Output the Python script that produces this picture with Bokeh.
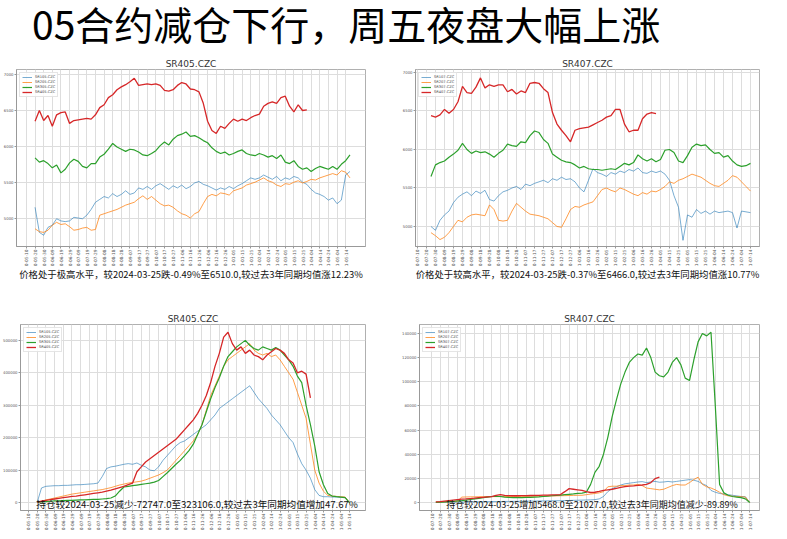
import math
from bokeh.plotting import figure
from bokeh.models import Div, Label, FixedTicker, Range1d, Legend, LegendItem
from bokeh.layouts import column, row
from bokeh.embed import file_html
from bokeh.resources import INLINE

# ---------------- data ----------------
page_title = "05合约减仓下行，周五夜盘大幅上涨"

left_dates = ["0-05-10", "0-05-20", "0-05-30", "0-06-09", "0-06-19", "0-06-29", "0-07-09", "0-07-19",
              "0-07-29", "0-08-08", "0-08-18", "0-08-28", "0-09-07", "0-09-17", "0-09-27", "0-10-07",
              "0-10-17", "0-10-27", "0-11-06", "0-11-16", "0-11-26", "0-12-06", "0-12-16", "0-12-26",
              "1-01-05", "1-01-15", "1-01-25", "1-02-04", "1-02-14", "1-02-24", "1-03-05", "1-03-15",
              "1-03-25", "1-04-04", "1-04-14", "1-04-24", "1-05-04", "1-05-14"]
right_dates = ["0-07-10", "0-07-20", "0-07-30", "0-08-09", "0-08-19", "0-08-29", "0-09-08", "0-09-18",
               "0-09-28", "0-10-08", "0-10-18", "0-10-28", "0-11-07", "0-11-17", "0-11-27", "0-12-07",
               "0-12-17", "0-12-27", "1-01-06", "1-01-16", "1-01-26", "1-02-05", "1-02-15", "1-02-25",
               "1-03-06", "1-03-16", "1-03-26", "1-04-05", "1-04-15", "1-04-25", "1-05-05", "1-05-15",
               "1-05-25", "1-06-04", "1-06-14", "1-06-24", "1-07-04", "1-07-14"]

names_05 = ["SR105.CZC", "SR205.CZC", "SR305.CZC", "SR405.CZC"]
names_07 = ["SR107.CZC", "SR207.CZC", "SR307.CZC", "SR407.CZC"]

price_ticks = [5000, 5500, 6000, 6500, 7000]
oi05_ticks = [0, 100000, 200000, 300000, 400000, 500000]
oi07_ticks = [0, 20000, 40000, 60000, 80000, 100000, 120000, 140000]

# price, 05 contracts (first point at day 10, one point every 5 days)
price05_start = 10
price_sr105 = [5150, 4800, 4760, 4870, 4900, 4990, 4960, 4950, 4960, 5010,
               5000, 4990, 5040, 5120, 5220, 5260, 5300, 5280, 5340, 5300,
               5330, 5380, 5330, 5350, 5420, 5400, 5440, 5400, 5450, 5480,
               5440, 5400, 5450, 5420, 5460, 5410, 5440, 5490, 5510, 5470,
               5450, 5420, 5390, 5420, 5400, 5440, 5410, 5450, 5480, 5520,
               5560, 5540, 5560, 5600, 5570, 5540, 5580, 5520, 5560, 5540,
               5580, 5560, 5500, 5470, 5400, 5350, 5330, 5300, 5250, 5280,
               5200, 5250, 5600, 5650]
price_sr205 = [4850, 4810, 4800, 4830, 4900, 4940, 4910, 4920, 4880, 4830,
               4840, 4860, 4870, 4830, 4840, 5040, 5060, 5080, 5100, 5120,
               5150, 5180, 5200, 5220, 5270, 5310, 5260, 5300, 5250, 5200,
               5170, 5180, 5150, 5100, 5060, 5040, 5000, 5060, 5090, 5200,
               5300, 5330, 5310, 5350, 5340, 5320, 5380, 5400, 5420, 5460,
               5480, 5500, 5530, 5560, 5520, 5500, 5460, 5440, 5480, 5470,
               5500, 5520, 5490, 5510, 5540, 5530, 5560, 5580, 5600, 5620,
               5600, 5660, 5640, 5560]
price_sr305 = [5840, 5780, 5800, 5760, 5700, 5740, 5630, 5680, 5770, 5820,
               5790, 5720, 5700, 5760, 5760, 5850, 5890, 5960, 6040, 5990,
               5960, 5930, 5960, 5950, 5920, 5880, 5870, 5900, 5940, 6010,
               6060, 6020, 6100, 6150, 6170, 6200, 6140, 6150,
               6120, 6080, 6050, 5980, 5930, 5900, 5920, 5880, 5900, 5930,
               5950, 5900, 5880, 5870, 5900, 5880, 5850, 5870, 5830, 5880,
               5780, 5760, 5800, 5720, 5680, 5700, 5650, 5690, 5720, 5700,
               5680, 5720, 5680, 5750, 5800, 5880]
price_sr405 = [6350, 6500, 6360, 6430, 6280, 6440, 6470, 6480, 6320, 6360,
               6370, 6380, 6390, 6380, 6440, 6540, 6580, 6680, 6720, 6790,
               6830, 6860, 6900, 6950, 6850, 6860, 6870, 6860, 6870, 6850,
               6780, 6770, 6790, 6850, 6890, 6870, 6800, 6790, 6760, 6600,
               6350, 6220, 6180, 6280, 6250, 6320, 6380, 6350, 6380, 6360,
               6400, 6430, 6450, 6560, 6600, 6620, 6600, 6680, 6700, 6560,
               6480, 6580, 6500, 6510]

# price, 07 contracts (first point at day 15)
price07_start = 15
price_sr107 = [5000, 4950, 5080, 5150, 5200, 5310, 5380, 5420, 5450, 5400,
               5460, 5430, 5470, 5350, 5330, 5400, 5450, 5470, 5500, 5520,
               5480, 5550, 5530, 5560, 5580, 5600, 5570, 5620, 5600, 5640,
               5610, 5620, 5580, 5500, 5450, 5600, 5750, 5700, 5680, 5650,
               5700, 5680, 5720, 5700, 5740, 5720, 5760, 5700, 5690, 5720,
               5700, 5720, 5680, 5600, 5400, 5250, 4820, 5150, 5120, 5220,
               5170, 5200, 5160, 5200, 5180, 5190, 5200, 5180, 4980, 5200,
               5190, 5180]
price_sr207 = [4920, 4880, 4830, 4860, 4920, 5000, 5080, 5060, 5120, 5150,
               5160, 5150, 5140, 5280, 5220, 5080, 5070, 5080, 5200, 5300,
               5250, 5200, 5160, 5150, 5140, 5120, 5100, 5050, 5000, 4990,
               5100, 5220, 5260, 5250, 5280, 5300, 5320, 5400, 5480, 5500,
               5470, 5450, 5500, 5480, 5450, 5420, 5400, 5440, 5420, 5460,
               5450, 5480, 5520, 5580, 5560, 5600, 5620, 5650, 5680, 5660,
               5640, 5600, 5560, 5530, 5520, 5560, 5600, 5660, 5640, 5580,
               5520, 5460]
price_sr307 = [5650, 5800, 5830, 5850, 5900, 5940, 5990, 6080, 6000, 5950,
               5980, 5960, 5970, 5940, 5900, 5950, 5990, 6070, 6050, 6040,
               6100, 6090, 6180, 6240, 6220, 6130, 6080, 5940, 5900, 5860,
               5840, 5830, 5800, 5760, 5780, 5750, 5740, 5740, 5730, 5740,
               5750, 5740, 5780, 5820, 5800, 5830, 5930, 5880, 5850, 5880,
               5840, 5870, 5990, 6000, 5960, 5850, 5830, 5920, 6030, 6070,
               6050, 6060, 6000, 5950, 5960, 5900, 5920, 5850, 5800, 5780,
               5790, 5820]
price_sr407 = [6440, 6420, 6450, 6520, 6470, 6520, 6620, 6820, 6740, 6730,
               6810, 6930, 6800, 6840, 6820, 6840, 6840, 6750, 6780, 6720,
               6760, 6740, 6860, 6870, 6860, 6790, 6740, 6480, 6330, 6250,
               6180, 6100, 6250, 6270, 6280, 6290, 6320, 6350, 6380, 6420,
               6440, 6520, 6520, 6330, 6230, 6250, 6250, 6400, 6460, 6480,
               6466]

# open interest, 05 contracts (first point at day 10)
oi05_start = 10
oi_sr105 = [0, 45000, 50000, 51000, 52000, 52000, 53000, 53000, 54000, 55000,
            55000, 56000, 57000, 58000, 60000, 80000, 105000, 110000, 112000, 115000,
            118000, 120000, 118000, 122000, 115000, 110000, 100000, 98000, 110000, 130000,
            145000, 160000, 175000, 185000, 190000, 200000, 210000, 220000, 230000, 240000,
            255000, 270000, 290000, 300000, 310000, 320000, 330000, 340000, 350000, 360000,
            340000, 320000, 305000, 290000, 270000, 255000, 240000, 220000, 200000, 185000,
            150000, 120000, 100000, 75000, 40000, 22000, 18000, 18000, 17000, 17000,
            16000, 16000, 0]
oi_sr205 = [500, 4000, 8000, 11000, 14000, 17000, 20000, 23000, 26000, 28000,
            30000, 32000, 34000, 36000, 38000, 40000, 43000, 46000, 50000, 54000,
            57000, 60000, 62000, 64000, 66000, 70000, 75000, 80000, 85000, 92000,
            100000, 115000, 130000, 145000, 160000, 175000, 190000, 210000, 240000, 285000,
            330000, 360000, 390000, 420000, 440000, 450000, 460000, 470000, 480000, 490000,
            470000, 460000, 455000, 460000, 450000, 455000, 440000, 420000, 400000, 380000,
            340000, 300000, 260000, 180000, 100000, 60000, 35000, 22000, 20000, 19000,
            18000, 17000, 0]
oi_sr305 = [500, 2000, 3000, 4000, 5000, 5500, 6000, 6500, 7000, 7500,
            8000, 8500, 9000, 9500, 10000, 11000, 12000, 14000, 20000, 35000,
            48000, 50000, 52000, 54000, 56000, 58000, 60000, 63000, 68000, 80000,
            92000, 105000, 118000, 130000, 145000, 160000, 180000, 210000, 240000, 280000,
            320000, 355000, 385000, 420000, 450000, 465000, 480000, 490000, 500000, 485000,
            475000, 470000, 480000, 475000, 470000, 478000, 470000, 455000, 440000, 420000,
            390000, 370000, 300000, 240000, 175000, 95000, 55000, 28000, 20000, 18000,
            17000, 15000, 0]
oi_sr405 = [1000, 4000, 7000, 9000, 11000, 13000, 15000, 17000, 19000, 20000,
            22000, 24000, 26000, 28000, 30000, 32000, 35000, 38000, 42000, 46000,
            50000, 55000, 60000, 95000, 110000, 125000, 135000, 145000, 155000, 165000,
            175000, 185000, 195000, 210000, 225000, 240000, 255000, 275000, 300000, 330000,
            370000, 420000, 460000, 510000, 525000, 490000, 470000, 480000, 460000, 470000,
            455000, 450000, 440000, 455000, 465000, 475000, 470000, 460000, 440000, 430000,
            400000, 405000, 396000, 323106]

# open interest, 07 contracts (first point at day 5)
oi07_start = 5
oi_sr107 = [100, 150, 200, 250, 300, 350, 400, 450, 500, 550,
            600, 650, 700, 750, 800, 850, 900, 950, 1000, 1000,
            1100, 1100, 1200, 1200, 1300, 1300, 1400, 1400, 1500, 1500,
            1600, 1700, 1800, 1900, 2000, 2100, 2200, 2400, 3000, 5000,
            9000, 11500, 13000, 14500, 15500, 16000, 16500, 17000, 17300, 16500,
            17000, 17500, 16800, 17000, 17500, 17000, 17500, 18000, 18500, 19000,
            18500, 17500, 15500, 14000, 10000, 8500, 7500, 7000, 6500, 6000,
            5500, 5000, 4800, 0]
oi_sr207 = [300, 400, 500, 600, 700, 800, 4500, 4600, 4700, 4700,
            4800, 4800, 4800, 4900, 4900, 4900, 5000, 5000, 5000, 5000,
            5100, 5100, 5200, 5200, 5300, 5300, 5400, 5500, 5500, 5600,
            5700, 5800, 5900, 6000, 6000, 6500, 7000, 7500, 8000, 9000,
            13000, 13500, 13500, 14000, 14000, 14500, 14500, 15000, 14000, 12000,
            11500, 11000, 10500, 11000, 12500, 14000, 15000, 14500, 14500, 16500,
            19000, 21000, 15000, 13000, 12000, 10500, 8500, 6500, 5500, 5200,
            5000, 4800, 4500, 0]
oi_sr307 = [200, 400, 600, 800, 1000, 1300, 1600, 2000, 2500, 3000,
            3500, 4000, 4500, 5000, 5200, 5000, 4500, 4200, 4000, 4000,
            4100, 4200, 4300, 4500, 4700, 5000, 5300, 5600, 5900, 6200,
            6500, 6800, 7100, 7500, 7800, 8500, 15000, 25000, 30000, 40000,
            54000, 71000, 85000, 98000, 108000, 116000, 120000, 123000, 122000, 128000,
            120000, 108000, 105000, 104000, 108000, 116000, 120000, 114000, 103000, 101000,
            118000, 133000, 140000, 138000, 141000, 80000, 15000, 8000, 6000, 5000,
            4500, 4000, 3000, 0]
oi_sr407 = [500, 800, 1200, 1600, 2000, 2400, 2800, 3000, 3300, 3600,
            4000, 4300, 4600, 4900, 6000, 6600, 5900, 5700, 5600, 5600,
            5700, 5700, 5800, 5900, 6000, 6100, 6200, 6300, 6400, 6600,
            9000, 11500, 11000, 10500, 10000, 9000, 8300, 8500, 9200, 10000,
            10500, 11000, 11800, 12500, 13200, 13500, 13800, 14200, 14500, 15000,
            16500, 19800, 21027]

note_price05 = "价格处于极高水平，较2024-03-25跌-0.49%至6510.0,较过去3年同期均值涨12.23%"
note_price07 = "价格处于较高水平，较2024-03-25跌-0.37%至6466.0,较过去3年同期均值涨10.77%"
note_oi05 = "持仓较2024-03-25减少-72747.0至323106.0,较过去3年同期均值增加47.67%"
note_oi07 = "持仓较2024-03-25增加5468.0至21027.0,较过去3年同期均值减少-89.89%"

# ---------------- styling ----------------
CJK = "Noto Sans CJK SC"
COLORS = ["#1f77b4", "#ff7f0e", "#2ca02c", "#d62728"]
ALPHAS = [0.6, 0.75, 1.0, 1.0]
WIDTHS = [1.0, 1.0, 1.2, 1.3]
STEP = 5


def chart(width, height, xr, yr, borders, title, xlabels, yticks, names, series, start):
    l, r, t, b = borders
    p = figure(width=width, height=height, x_range=Range1d(*xr), y_range=Range1d(*yr),
               output_backend="svg", toolbar_location=None,
               min_border_left=l, min_border_right=r, min_border_top=t, min_border_bottom=b,
               background_fill_color="white", border_fill_color="white")
    p.title.text = title
    p.title.align = "center"
    p.title.text_font = "DejaVu Sans"
    p.title.text_font_size = "9px"
    p.title.text_font_style = "normal"
    p.title.text_color = "#333333"
    p.title.standoff = 1
    ticks = [10 * i for i in range(len(xlabels))]
    p.xaxis.ticker = FixedTicker(ticks=ticks)
    p.xaxis.major_label_overrides = {tk: s for tk, s in zip(ticks, xlabels)}
    p.xaxis.major_label_orientation = math.pi / 2
    p.xaxis.major_label_text_font_size = "4.3px"
    p.yaxis.ticker = FixedTicker(ticks=yticks)
    p.yaxis.major_label_overrides = {v: str(v) for v in yticks}
    p.yaxis.major_label_text_font_size = "3.8px"
    for ax in (p.xaxis, p.yaxis):
        ax.major_label_text_font = "DejaVu Sans"
        ax.major_label_text_color = "#555555"
        ax.major_label_standoff = 1
        ax.major_tick_out = 2
        ax.major_tick_in = 0
        ax.minor_tick_line_color = None
        ax.axis_line_color = "#999999"
        ax.major_tick_line_color = "#999999"
    p.grid.grid_line_color = "#dddddd"
    p.grid.grid_line_width = 1
    p.outline_line_color = "#b0b0b0"

    items = []
    for name, vals, col, a, w in zip(names, series, COLORS, ALPHAS, WIDTHS):
        xs = [start + STEP * i for i in range(len(vals))]
        rr = p.line(xs, vals, line_color=col, line_alpha=a, line_width=w)
        items.append(LegendItem(label=name, renderers=[rr]))
    leg = Legend(items=items, location="top_left", label_text_font_size="3.6px",
                 label_text_font="DejaVu Sans", label_text_color="#444444",
                 label_height=4, glyph_height=4, glyph_width=10, spacing=1,
                 padding=2, margin=3, label_standoff=3,
                 border_line_color="#cccccc", background_fill_alpha=0.85)
    p.add_layout(leg)
    return p


def axis_note(p, text, size):
    ax = p.xaxis[0]
    ax.axis_label = text
    ax.axis_label_text_font = CJK
    ax.axis_label_text_font_size = size
    ax.axis_label_text_font_style = "normal"
    ax.axis_label_text_color = "#111111"
    ax.axis_label_standoff = -2


def note(p, x, y, text, size):
    p.add_layout(Label(x=x, y=y, text=text, text_font=CJK, text_font_size=size,
                       text_baseline="middle", text_color="#111111"))


p1 = chart(390, 237, (-11.5, 393), (4603, 7072), (14, 25, 13, 44), "SR405.CZC",
           left_dates, price_ticks, names_05,
           [price_sr105, price_sr205, price_sr305, price_sr405], price05_start)
axis_note(p1, note_price05, "9.4px")

p2 = chart(381, 237, (-2.2, 380), (4740, 7039), (25, 12, 13, 47), "SR407.CZC",
           right_dates, price_ticks, names_07,
           [price_sr107, price_sr207, price_sr307, price_sr407], price07_start)
axis_note(p2, note_price07, "9.4px")

p3 = chart(390, 240, (-9.2, 388.5), (-24500, 549000), (19, 25, 31, 22), "SR405.CZC",
           left_dates, oi05_ticks, names_05,
           [oi_sr105, oi_sr205, oi_sr305, oi_sr405], oi05_start)
note(p3, 9, -5400, note_oi05, "9.6px")

p4 = chart(381, 240, (-14, 381.4), (-6600, 147400), (29, 12, 31, 22), "SR407.CZC",
           right_dates, oi07_ticks, names_07,
           [oi_sr107, oi_sr207, oi_sr307, oi_sr407], oi07_start)
note(p4, 17, -1450, note_oi07, "9.0px")

head = Div(text=('<div style="font-family:\'Noto Sans CJK SC\';font-size:39px;line-height:44px;'
                 'height:46px;color:#000;padding-left:27px;white-space:nowrap;margin:0;'
                 'position:relative;top:-4px;overflow:visible;">' + page_title + '</div>'),
           width=771, height=46, styles={"overflow": "visible"})

layout = column(head, row(p1, p2, spacing=0), row(p3, p4, spacing=0), spacing=0)

open("out.html", "w").write(file_html(layout, INLINE))
